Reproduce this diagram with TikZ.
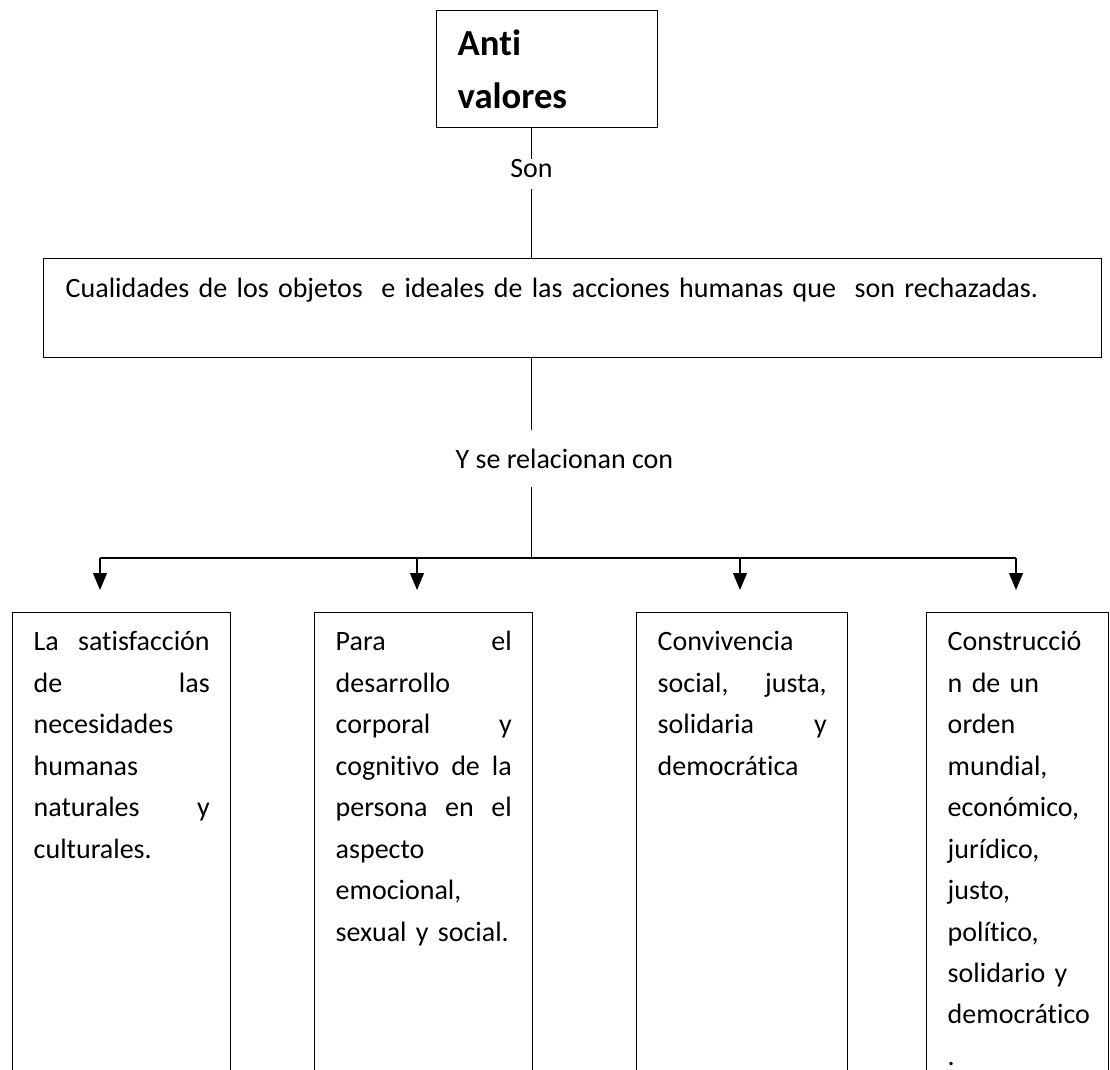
\documentclass[tikz,border=0pt]{standalone}
\usepackage{fontspec}
\setmainfont{Carlito}[Ligatures=NoCommon]
\usetikzlibrary{arrows.meta}
\newcommand{\jline}[1]{\makebox[\hsize][s]{\spaceskip=0.226em plus 1fil\relax #1}}

\begin{document}
\begin{tikzpicture}[x=0.75pt,y=-0.75pt,line width=0.9pt,
  caja/.style={draw,line width=1.1pt,anchor=north west,align=left,
    inner ysep=0pt,inner xsep=15.75pt,text height=28.5pt,text depth=450pt,
    font=\fontsize{21}{31.1}\selectfont},
  titulo/.style={text width=134.25pt,text height=33.75pt,text depth=54pt,
    font=\bfseries\fontsize{27.5}{39.75}\selectfont},
  etiqueta/.style={inner sep=0pt,font=\fontsize{21}{25}\selectfont},
  flecha/.style={-{Triangle[length=12.75pt,width=10.5pt]}}]
\useasboundingbox (0,0) rectangle (1110,1070);
\clip (0,0) rectangle (1110,1070);
% concepto
\node[caja,titulo] (anti) at (436,10) {Anti\\valores};
\node[etiqueta,anchor=base,text depth=7.5pt] (son) at (531.5,178) {Son};
\node[caja,text width=760.5pt,inner xsep=16.5pt,text height=29.25pt,text depth=45pt] (cual) at (43,258)
  {Cualidades de los objetos\ \ e ideales de las acciones humanas que\ \ son rechazadas.};
\node[etiqueta,anchor=base west,inner ysep=13.5pt] (rel) at (455,468) {Y se relacionan con};
% cuatro relaciones
\node[caja,text width=132pt] (sat) at (12,612)
  {\jline{La satisfacción}\\\jline{de las}\\necesidades\\humanas\\\jline{naturales y}\\culturales.};
\node[caja,text width=132pt] (des) at (314,612)
  {\jline{Para el}\\desarrollo\\\jline{corporal y}\\\jline{cognitivo de la}\\\jline{persona en el}\\aspecto\\emocional,\\sexual y social.};
\node[caja,text width=126.75pt] (con) at (636,612)
  {Convivencia\\\jline{social, justa,}\\\jline{solidaria y}\\democrática};
\node[caja,text width=105pt] (ord) at (926,612)
  {Construcció\\n de un\\orden\\mundial,\\económico,\\jurídico,\\justo,\\político,\\solidario y\\democrático\\.};
% conectores
\draw (son |- anti.south) -- (son.north);
\draw (son.south) -- (son |- cual.north);
\draw (son |- cual.south) -- (son |- rel.north);
\coordinate (hub) at (son |- 0,558);
\draw (son |- rel.south) -- (hub);
\foreach \x [count=\i] in {100,417,740,1016}
  \coordinate (tip\i) at (\x,590);
\draw (tip1 |- hub) -- (tip4 |- hub);
\foreach \i in {1,...,4}
  \draw[flecha] (tip\i |- hub) -- (tip\i);
\end{tikzpicture}
\end{document}
